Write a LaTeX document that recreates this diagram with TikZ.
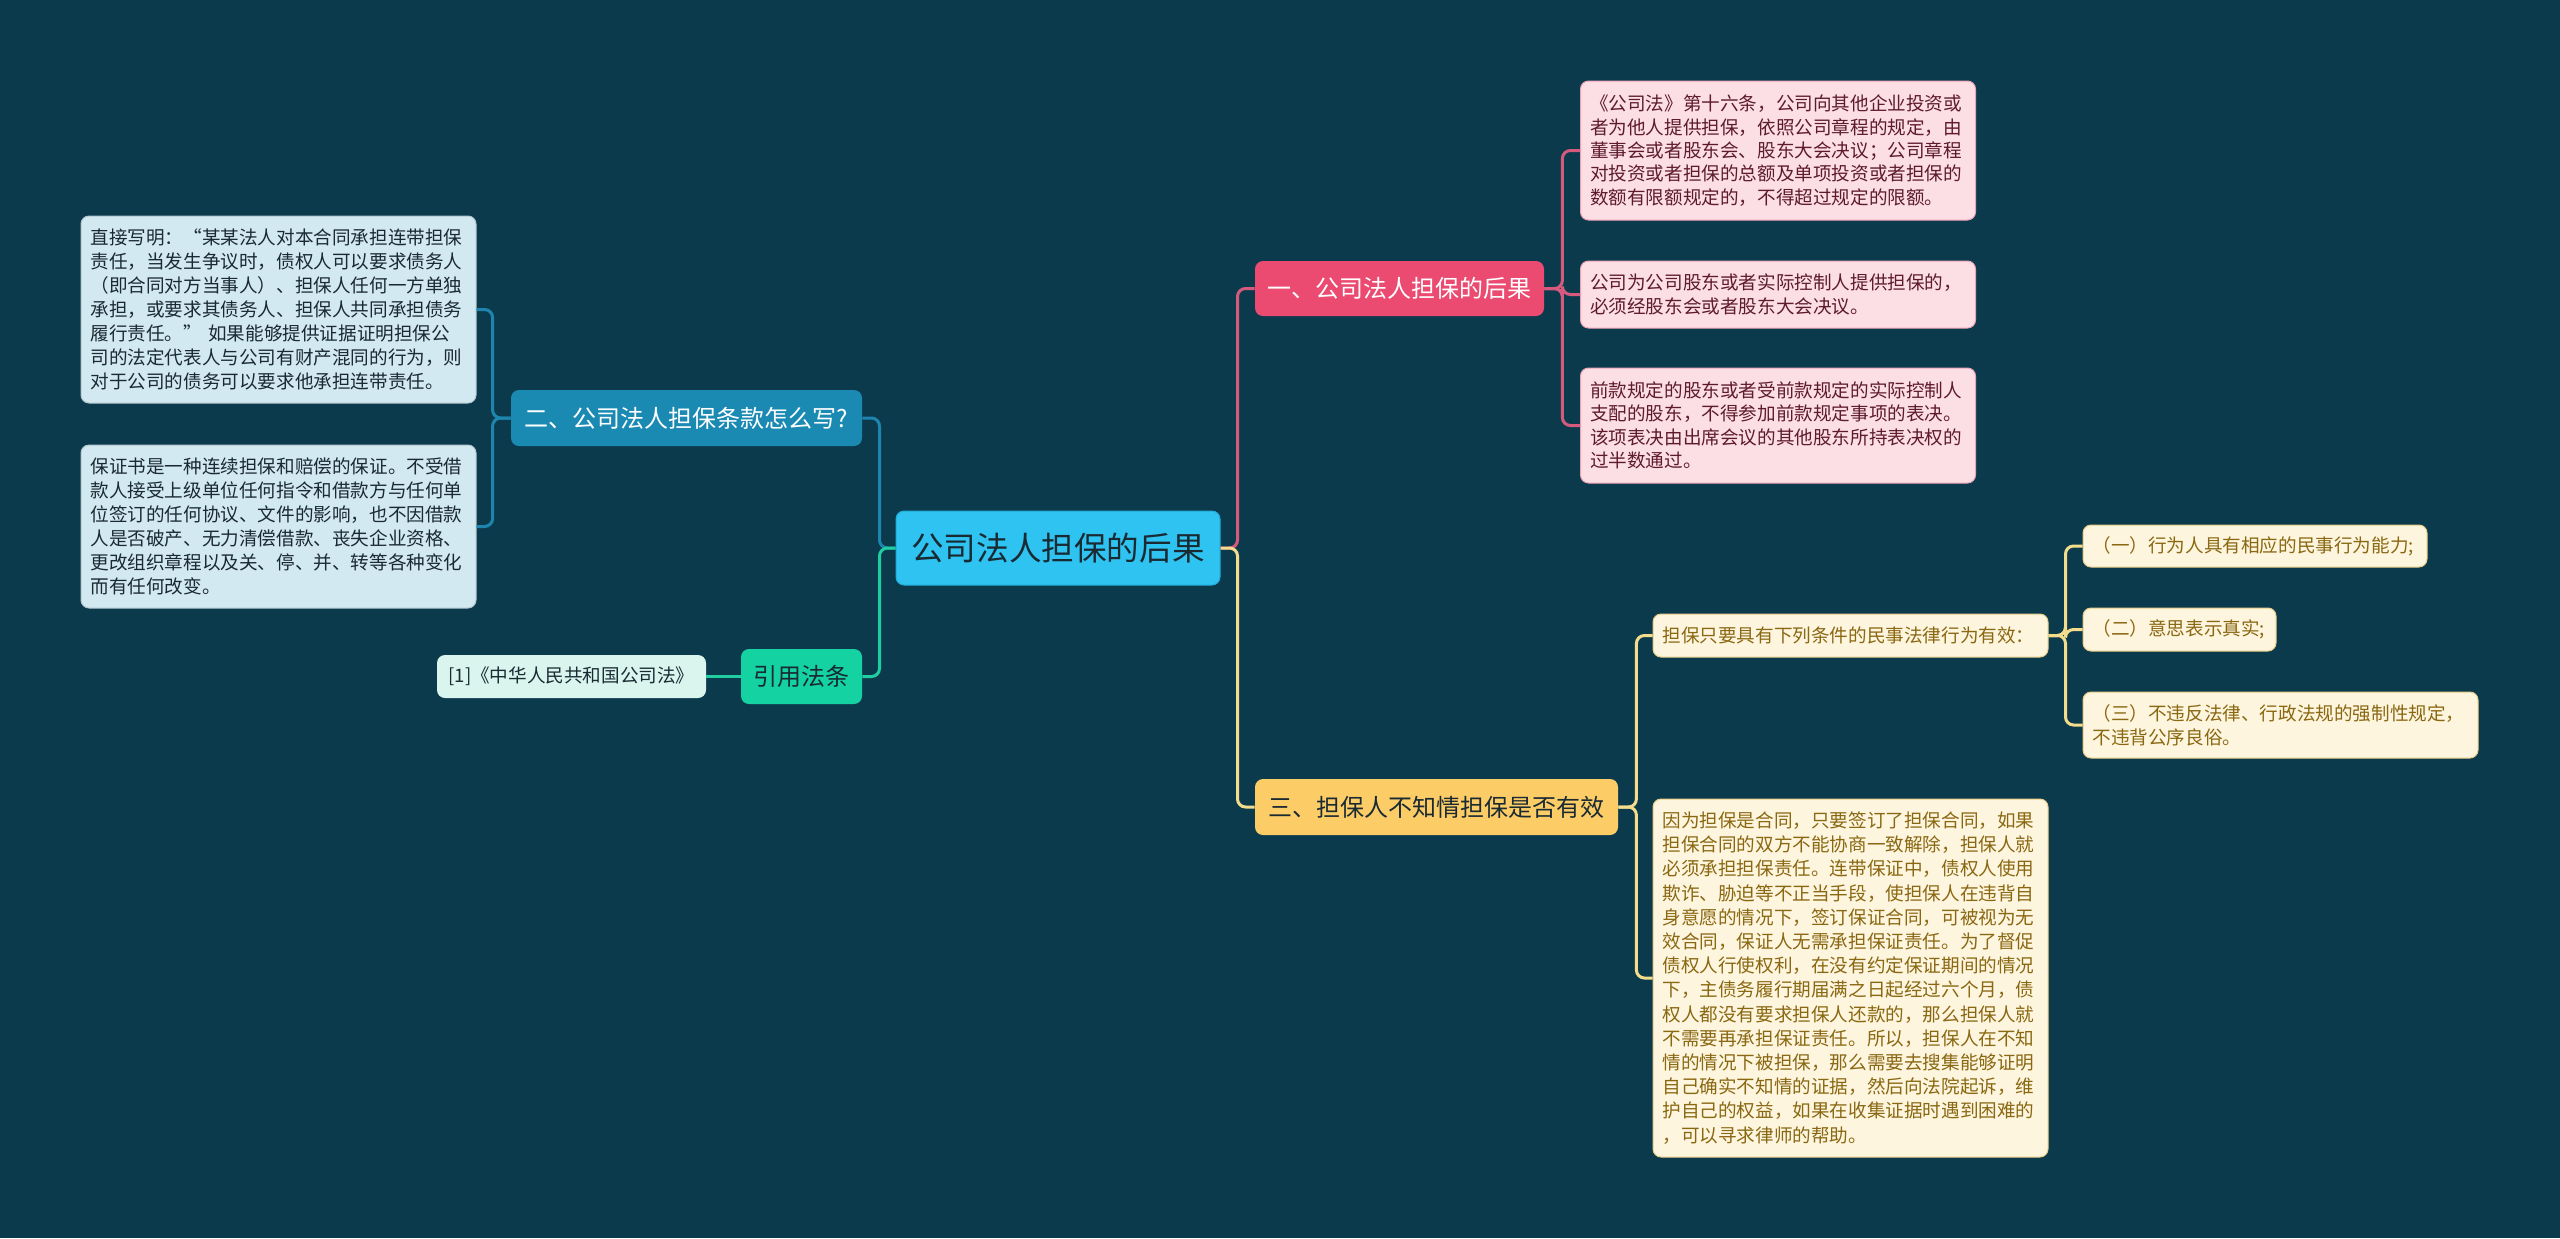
\documentclass[tikz,border=0pt]{standalone}
\usepackage{fontspec}
\setmainfont{Noto Sans CJK SC}
\definecolor{bg}{HTML}{0B3A4D}
\definecolor{rootfill}{HTML}{2EC3F1}
\definecolor{rootdraw}{HTML}{22A9D6}
\definecolor{onefill}{HTML}{EB4A71}
\definecolor{pinkfill}{HTML}{FCDEE5}
\definecolor{pinkdraw}{HTML}{EFA3B6}
\definecolor{pinktext}{HTML}{5E1B2E}
\definecolor{pinkline}{HTML}{D65A7E}
\definecolor{twofill}{HTML}{1B8AB3}
\definecolor{blueline}{HTML}{1E86AE}
\definecolor{lbluefill}{HTML}{D3E9F1}
\definecolor{darktext}{HTML}{1A2A33}
\definecolor{greenfill}{HTML}{14D2A2}
\definecolor{greenline}{HTML}{1FCDA0}
\definecolor{lgreenfill}{HTML}{D9F5EE}
\definecolor{threefill}{HTML}{FCCC66}
\definecolor{creamfill}{HTML}{FDF5DE}
\definecolor{creamdraw}{HTML}{E9CD84}
\definecolor{creamtext}{HTML}{8A6812}
\definecolor{yellowline}{HTML}{F3DC8C}
\tikzset{
  bigfont/.style={font=\fontsize{16.3}{20}\selectfont},
  midfont/.style={font=\fontsize{12}{14}\selectfont},
  smallfont/.style={font=\fontsize{9.3}{11.9}\selectfont},
  onebox/.style={rounded corners=4pt, inner sep=0pt, align=center},
  textbox/.style={rounded corners=4pt, inner ysep=0pt, inner xsep=4.75pt, text width=188pt, align=left, smallfont, line width=0.5pt},
  conn/.style={line width=1.5pt, rounded corners=4pt},
}
\begin{document}
\begin{tikzpicture}[x=0.5pt,y=-0.5pt]
\fill[bg] (0,0) rectangle (2560,1238);
\useasboundingbox (0,0) rectangle (2560,1238);

% root
\node[onebox, fill=rootfill, draw=rootdraw, line width=0.5pt, minimum width=162pt, minimum height=37pt, bigfont, text=darktext] (root) at (1058,548) {公司法人担保的后果};

% left branch
\node[onebox, fill=twofill, minimum width=175.5pt, minimum height=28pt, midfont, text=white] (two) at (686.5,418) {二、公司法人担保条款怎么写?};
\node[textbox, fill=lbluefill, draw=lbluefill!85!black, text=darktext, minimum height=93.5pt, font=\fontsize{9.3}{12}\selectfont] (l1) at (278.5,309.5) {直接写明：“某某法人对本合同承担连带担保\\责任，当发生争议时，债权人可以要求债务人\\（即合同对方当事人）、担保人任何一方单独\\承担，或要求其债务人、担保人共同承担债务\\履行责任。” 如果能够提供证据证明担保公\\司的法定代表人与公司有财产混同的行为，则\\对于公司的债务可以要求他承担连带责任。};
\node[textbox, fill=lbluefill, draw=lbluefill!85!black, text=darktext, minimum height=81.5pt, font=\fontsize{9.3}{12}\selectfont] (l2) at (278.5,526.5) {保证书是一种连续担保和赔偿的保证。不受借\\款人接受上级单位任何指令和借款方与任何单\\位签订的任何协议、文件的影响，也不因借款\\人是否破产、无力清偿借款、丧失企业资格、\\更改组织章程以及关、停、并、转等各种变化\\而有任何改变。};

\node[onebox, fill=greenfill, minimum width=60.5pt, minimum height=27.5pt, midfont, text=darktext] (cite) at (801.5,676.5) {引用法条};
\node[onebox, fill=lgreenfill, minimum width=134.5pt, minimum height=21.5pt, smallfont, text=darktext] (law) at (571.5,676.5) {[1]《中华人民共和国公司法》};

% right branch: one
\node[onebox, fill=onefill, minimum width=144.5pt, minimum height=27.5pt, midfont, text=white] (one) at (1399.5,288.5) {一、公司法人担保的后果};
\node[textbox, fill=pinkfill, draw=pinkdraw, text=pinktext, minimum height=69.5pt, font=\fontsize{9.3}{11.65}\selectfont] (pa) at (1778,150.5) {《公司法》第十六条，公司向其他企业投资或\\者为他人提供担保，依照公司章程的规定，由\\董事会或者股东会、股东大会决议；公司章程\\对投资或者担保的总额及单项投资或者担保的\\数额有限额规定的，不得超过规定的限额。};
\node[textbox, fill=pinkfill, draw=pinkdraw, text=pinktext, minimum height=33.5pt, font=\fontsize{9.3}{11.65}\selectfont] (pb) at (1778,294.5) {公司为公司股东或者实际控制人提供担保的，\\必须经股东会或者股东大会决议。};
\node[textbox, fill=pinkfill, draw=pinkdraw, text=pinktext, minimum height=57.5pt, font=\fontsize{9.3}{11.65}\selectfont] (pc) at (1778,425.5) {前款规定的股东或者受前款规定的实际控制人\\支配的股东，不得参加前款规定事项的表决。\\该项表决由出席会议的其他股东所持表决权的\\过半数通过。};

% right branch: three
\node[onebox, fill=threefill, minimum width=181.5pt, minimum height=28pt, midfont, text=darktext] (three) at (1436.5,807) {三、担保人不知情担保是否有效};
\node[textbox, fill=creamfill, draw=creamdraw, text=creamtext, minimum height=21.5pt] (cond) at (1850.5,635.5) {担保只要具有下列条件的民事法律行为有效：};
\node[textbox, fill=creamfill, draw=creamdraw, text=creamtext, minimum height=21pt, text width=162.5pt] (c1) at (2255,546) {（一）行为人具有相应的民事行为能力;};
\node[textbox, fill=creamfill, draw=creamdraw, text=creamtext, minimum height=21.5pt, text width=87pt] (c2) at (2179.5,629.5) {（二）意思表示真实;};
\node[textbox, fill=creamfill, draw=creamdraw, text=creamtext, minimum height=33pt] (c3) at (2280.5,725) {（三）不违反法律、行政法规的强制性规定，\\不违背公序良俗。};
\node[textbox, fill=creamfill, draw=creamdraw, text=creamtext, minimum height=179pt, font=\fontsize{9.3}{12.1}\selectfont] (big) at (1850.5,978) {因为担保是合同，只要签订了担保合同，如果\\担保合同的双方不能协商一致解除，担保人就\\必须承担担保责任。连带保证中，债权人使用\\欺诈、胁迫等不正当手段，使担保人在违背自\\身意愿的情况下，签订保证合同，可被视为无\\效合同，保证人无需承担保证责任。为了督促\\债权人行使权利，在没有约定保证期间的情况\\下，主债务履行期届满之日起经过六个月，债\\权人都没有要求担保人还款的，那么担保人就\\不需要再承担保证责任。所以，担保人在不知\\情的情况下被担保，那么需要去搜集能够证明\\自己确实不知情的证据，然后向法院起诉，维\\护自己的权益，如果在收集证据时遇到困难的\\，可以寻求律师的帮助。};

% connectors
\draw[conn, blueline] (root.west) -- ++(-16,0) |- (two.east);
\draw[conn, greenline] (root.west) -- ++(-16,0) |- (cite.east);
\draw[conn, blueline] (two.west) -- ++(-18,0) |- (l1.east);
\draw[conn, blueline] (two.west) -- ++(-18,0) |- (l2.east);
\draw[conn, greenline] (cite.west) -- (law.east);

\draw[conn, pinkline] (root.east) -- ++(17,0) |- (one.west);
\draw[conn, yellowline] (root.east) -- ++(17,0) |- (three.west);
\draw[conn, pinkline] (one.east) -- ++(18,0) |- (pa.west);
\draw[conn, pinkline] (one.east) -- ++(18,0) |- (pb.west);
\draw[conn, pinkline] (one.east) -- ++(18,0) |- (pc.west);

\draw[conn, yellowline] (three.east) -- ++(18,0) |- (cond.west);
\draw[conn, yellowline] (three.east) -- ++(18,0) |- (big.west);
\draw[conn, yellowline] (cond.east) -- ++(17,0) |- (c1.west);
\draw[conn, yellowline] (cond.east) -- ++(17,0) |- (c2.west);
\draw[conn, yellowline] (cond.east) -- ++(17,0) |- (c3.west);
\end{tikzpicture}
\end{document}
